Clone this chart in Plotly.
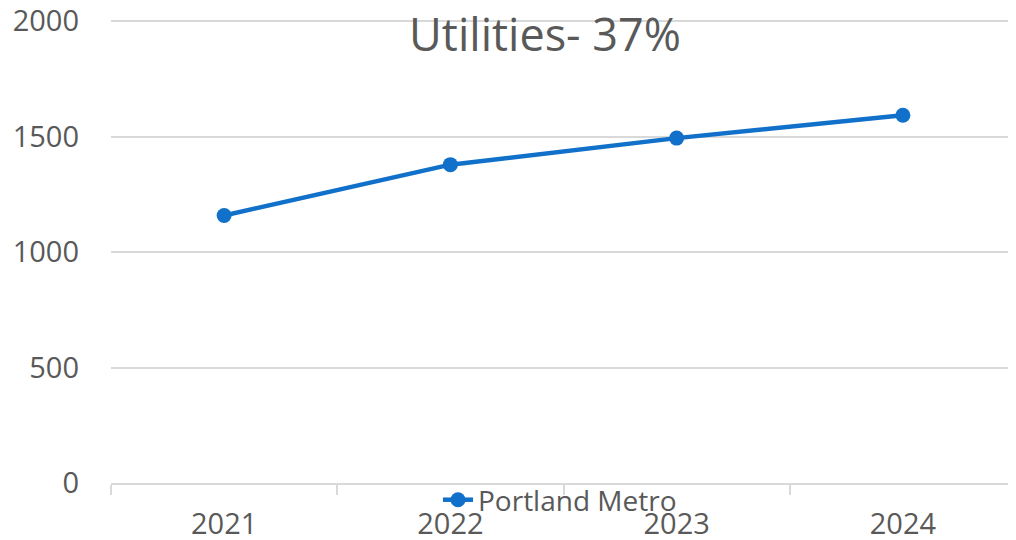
import plotly.graph_objects as go

years = ["2021", "2022", "2023", "2024"]
values = [1159, 1379, 1494, 1593]
series_name = "Portland Metro"
title_text = "Utilities- 37%"
y_ticks = [0, 500, 1000, 1500, 2000]

TXT = "#595959"
GRID = "#d9d9d9"
BLUE = "#1170c9"
FONT = "Open Sans, Arial, sans-serif"

# the page body has an 8px margin, so the figure is sized to fit the window
W, H = 1008, 532

fig = go.Figure()
fig.add_trace(go.Scatter(
    x=years, y=values, name=series_name, mode="lines+markers",
    line=dict(color=BLUE, width=4.5),
    marker=dict(color=BLUE, size=15),
    showlegend=True,
))

fig.update_layout(
    width=W, height=H,
    margin=dict(l=103, r=0, t=11, b=57, autoexpand=False),
    paper_bgcolor="white", plot_bgcolor="white",
    font=dict(family=FONT, color=TXT, size=29),
    title=dict(text=title_text, x=537/W, xref="container", xanchor="center",
               y=1-27/H, yref="container", yanchor="middle",
               font=dict(size=45, color=TXT, family=FONT)),
    legend=dict(orientation="h", xref="container", yref="container",
                x=552/W, xanchor="center", y=1-492/H, yanchor="middle",
                font=dict(size=28, color=TXT), bgcolor="rgba(0,0,0,0)"),
    showlegend=True,
)
fig.update_xaxes(type="category", tickson="boundaries", showgrid=False,
                 showline=True, linecolor=GRID, linewidth=1.5,
                 ticks="outside", ticklen=10, tickcolor=GRID, tickwidth=1.5,
                 ticklabelstandoff=14, tickfont=dict(size=29, color=TXT),
                 ticklabeloverflow="allow",
                 range=[-0.5, 3.5], automargin=False)
fig.update_yaxes(range=[0, 2010], tickvals=y_ticks, showgrid=True, gridcolor=GRID,
                 gridwidth=1.5, zeroline=False, showline=False,
                 ticklabelstandoff=31, tickfont=dict(size=29, color=TXT),
                 ticklabeloverflow="allow", automargin=False)

fig.write_html("out.html")
